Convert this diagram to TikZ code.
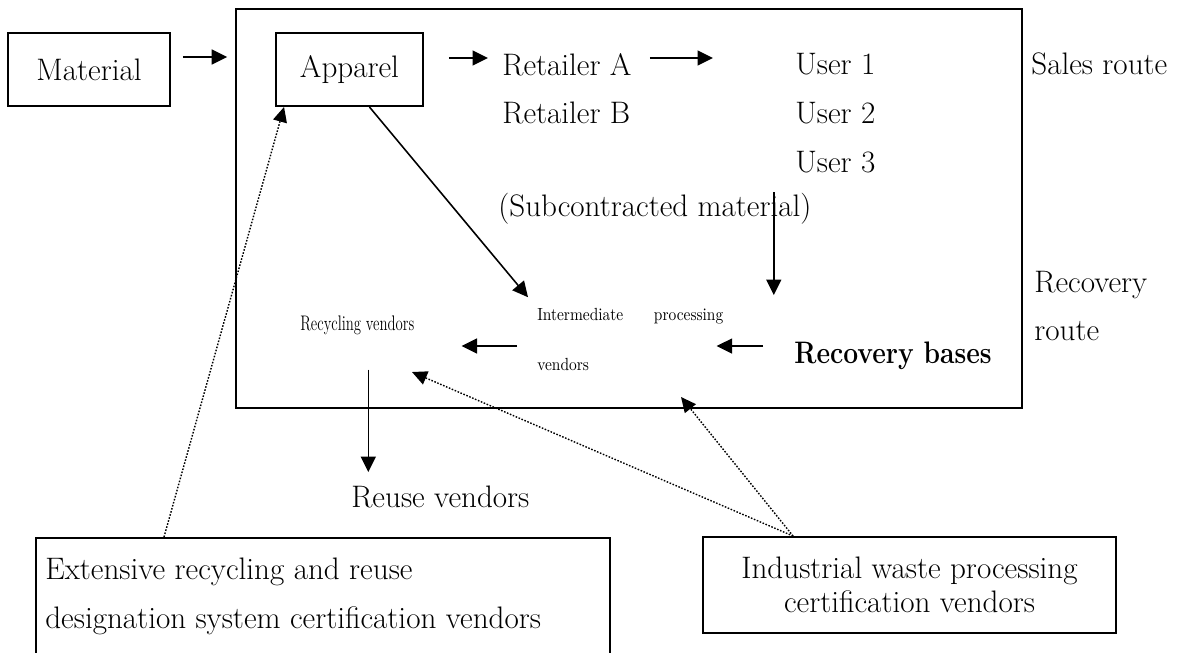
\documentclass[tikz,border=0pt]{standalone}
\usetikzlibrary{arrows.meta,calc}
\tikzset{
  box/.style={draw, line width=1.1pt, inner sep=0pt},
  txt/.style={inner sep=0pt, font=\fontsize{17.7}{21}\selectfont},
  arr/.style={-{Triangle[length=0.31cm,width=0.3cm]}, line width=0.9pt},
  cert/.style={-{Triangle[length=0.3cm,width=0.28cm]}, dash pattern=on 0.9pt off 0.9pt, line width=0.8pt},
}
\begin{document}
\begin{tikzpicture}[x=0.02cm,y=-0.02cm]
      \useasboundingbox (0,0) rectangle (1191,653);
      \node[box, txt, minimum width=3.24cm, minimum height=1.46cm] (material) at (89,69.5) {Material};
      \node[box, minimum width=15.72cm, minimum height=7.98cm] (plant) at (629,208.5) {};
      \node[box, txt, minimum width=2.94cm, minimum height=1.46cm] (apparel) at (349.5,69.5) {Apparel};
      \node[txt, anchor=base west] (retA) at (502,75) {Retailer A};
      \node[txt, anchor=base west] (retB) at (502,123) {Retailer B};
      \node[txt, anchor=base west] (user1) at (795,74) {User 1};
      \node[txt, anchor=base west] (user2) at (795,123) {User 2};
      \node[txt, anchor=base west] (user3) at (795,172) {User 3};
      \node[txt, anchor=base west] (sales) at (1031,74) {Sales route};
      \node[txt, anchor=base west] (sub) at (498,216) {(Subcontracted material)};
      \node[txt, anchor=base west] (bases) at (794,363) {\scalebox{0.85}[1]{\bfseries Recovery bases}};
      \node[txt, anchor=north west, align=left, font=\fontsize{17.7}{27.2}\selectfont] (recroute) at (1034,270.7) {Recovery\\route};
      \node[inner sep=0pt, anchor=north west, text width=3.72cm, align=left,
            font=\fontsize{10}{28.4}\selectfont] (inter) at (537,308) {\scalebox{0.88}[1]{Intermediate}\hfill\scalebox{0.88}[1]{processing}\\\scalebox{0.88}[1]{vendors}};
      \node[inner sep=0pt, anchor=base west] (recyc) at (300,330) {\scalebox{0.7}[1]{\fontsize{12}{14}\selectfont Recycling vendors}};
      \node[txt, anchor=base west] (reuse) at (351,507) {Reuse vendors};
      \node[box, anchor=north west, minimum width=11.48cm, minimum height=2.8cm] (ercert) at (35,537) {};
      \node[txt, anchor=north west, align=left, font=\fontsize{17.7}{27.8}\selectfont] (ertext) at (45,557.3)
            {Extensive recycling and reuse\\designation system certification vendors};
      \node[box, txt, align=center, minimum width=8.26cm, minimum height=1.92cm,
            font=\fontsize{17.7}{19.3}\selectfont] (indus) at (909.5,585) {Industrial waste processing\\certification vendors};
      % sales route
      \coordinate (m0) at ($(material.east)+(12,-12.5)$);
      \draw[arr, shorten >=0.16cm] (m0) -- (m0 -| plant.west); % material--apparel
      \coordinate (a0) at ($(apparel.east)+(25,-11.5)$);
      \draw[arr, shorten >=0.28cm] (a0) -- (a0 -| retA.west); % apparel--retailer
      \coordinate (a1) at (retA.east |- a0);
      \draw[arr, shorten <=0.36cm, shorten >=1.64cm] (a1) -- (a1 -| user1.west); % retailer--user
      % recovery route
      \coordinate (d0) at ($(sub.north east)+(-38,0)$);
      \draw[arr, shorten >=0.92cm] (d0) -- (d0 |- bases.north); % user--bases
      \coordinate (b0) at ($(bases.base west)+(-31,-17)$);
      \draw[arr, shorten >=-0.14cm] (b0) -- (b0 -| inter.east); % bases--inter
      \draw[arr, shorten <=0.4cm, shorten >=0.94cm] (b0 -| inter.west) -- (b0 -| recyc.east); % inter--recyc
      \draw[arr, shorten >=0.28cm] (apparel.-62) -- (inter.north west); % apparel--inter
      \coordinate (r0) at ($(recyc.south)+(11,35)$);
      \draw[arr, shorten >=0.26cm] (r0) -- (r0 |- reuse.north); % recyc--reuse
      % certification
      \coordinate (recyctip) at (412,372);
      \coordinate (planttip) at (681,397);
      \coordinate (indtop) at ($(indus.north west)+(91,0)$);
      \draw[cert] (indtop) -- (recyctip);
      \draw[cert] (indtop) -- (planttip);
      \draw[cert] ($(ercert.north west)+(129,0)$) -- ($(apparel.south west)+(9,0)$);
\end{tikzpicture}
\end{document}
